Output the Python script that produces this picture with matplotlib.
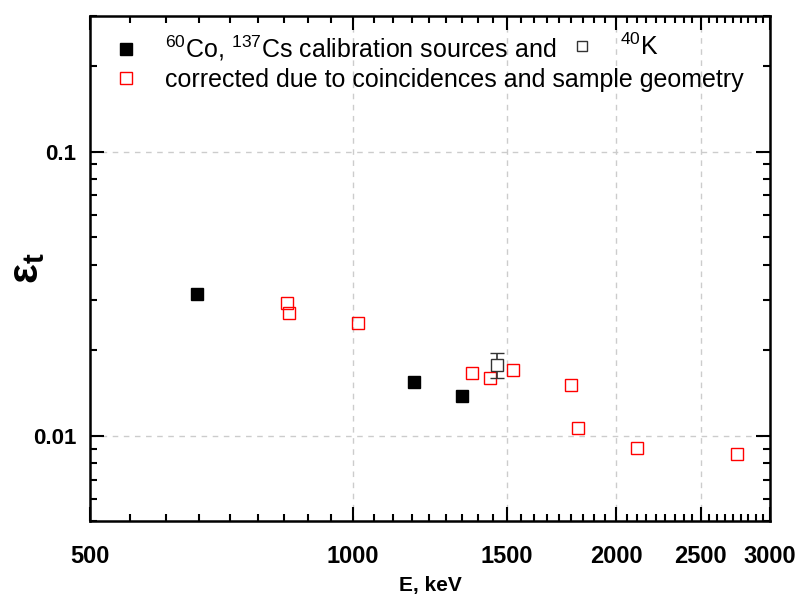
import matplotlib
matplotlib.use("Agg")
import matplotlib.pyplot as plt
from matplotlib.ticker import FixedLocator, NullFormatter, LogLocator
from matplotlib.lines import Line2D

# calibration sources (60Co, 137Cs)
cal_E = [662, 1173, 1332]
cal_eff = [0.0314, 0.0154, 0.0138]

# corrected points
cor_E = [841, 845, 1012, 1367, 1434, 1523, 1777, 1809, 2111, 2751]
cor_eff = [0.0293, 0.0270, 0.0249, 0.0166, 0.0159, 0.0170, 0.0151, 0.0106, 0.00907, 0.00859]

# 40K
k_E = [1461]
k_eff = [0.0177]
k_err = [0.0018]

x_major = [500, 1000, 1500, 2000, 2500, 3000]
x_labels = ["500", "1000", "1500", "2000", "2500", "3000"]

plt.rcParams['font.family'] = ['Liberation Sans', 'DejaVu Sans']
plt.rcParams['mathtext.fontset'] = 'custom'
plt.rcParams['mathtext.rm'] = 'Liberation Sans'
plt.rcParams['mathtext.it'] = 'Liberation Sans'
plt.rcParams['mathtext.bf'] = 'Liberation Sans:bold'

fig = plt.figure(figsize=(8, 5.99), dpi=100)
ax = fig.add_axes([0.1125, 0.1302, 0.85, 0.8431])

ax.set_xscale('log')
ax.set_yscale('log')
ax.set_xlim(500, 3000)
ax.set_ylim(0.005, 0.3)

# grid
for xv in x_major[1:-1]:
    ax.axvline(xv, color='#cccccc', ls=(0, (4, 4)), lw=1, zorder=0)
for yv in [0.01, 0.1]:
    ax.axhline(yv, color='#cccccc', ls=(0, (4, 4)), lw=1, zorder=0)

ax.plot(cal_E, cal_eff, ls='none', marker='s', ms=8.5, mfc='black', mec='black', zorder=3)
ax.plot(cor_E, cor_eff, ls='none', marker='s', ms=8, mfc='none', mec='red', mew=1.0, zorder=3)
ax.errorbar(k_E, k_eff, yerr=k_err, ls='none', marker='s', ms=8, mfc='white', mec='#333333',
            mew=1.0, ecolor='#333333', elinewidth=1.2, capsize=5, capthick=1.2, zorder=4)

# ticks
ax.xaxis.set_major_locator(FixedLocator(x_major))
ax.set_xticklabels(x_labels)
minors = []
for a, b in zip(x_major[:-1], x_major[1:]):
    for k in range(1, 9):
        minors.append(a + k * (b - a) / 9)
ax.xaxis.set_minor_locator(FixedLocator(minors))
ax.xaxis.set_minor_formatter(NullFormatter())

ax.yaxis.set_major_locator(FixedLocator([0.01, 0.1]))
ax.set_yticklabels(["0.01", "0.1"])
ax.yaxis.set_minor_locator(LogLocator(base=10, subs=range(2, 10)))
ax.yaxis.set_minor_formatter(NullFormatter())

ax.tick_params(which='both', direction='in', top=True, right=True, width=1.5)
ax.tick_params(which='major', length=10)
ax.tick_params(axis='y', which='major', labelsize=16, pad=10)
ax.tick_params(axis='x', which='major', labelsize=17, pad=17)
ax.tick_params(which='minor', length=5)
for lab in ax.get_xticklabels() + ax.get_yticklabels():
    lab.set_fontweight('bold')
for s in ax.spines.values():
    s.set_linewidth(1.8)

ax.set_xlabel('E, keV', fontsize=15, fontweight='bold')
ax.xaxis.set_label_coords(0.5, -0.108)
ax.set_ylabel(r'$\mathbf{\varepsilon}_\mathbf{t}$', fontsize=30)
ax.yaxis.set_label_coords(-0.063, 0.5)

# legends
h1 = Line2D([], [], ls='none', marker='s', ms=8.5, mfc='black', mec='black')
h2 = Line2D([], [], ls='none', marker='s', ms=8, mfc='none', mec='red', mew=1.0)
h3 = Line2D([], [], ls='none', marker='s', ms=7, mfc='white', mec='#333333', mew=1.0)
leg1 = ax.legend([h1, h2], [r'$^{60}$Co, $^{137}$Cs calibration sources and',
                            'corrected due to coincidences and sample geometry'],
                 loc='upper left', bbox_to_anchor=(0.005, 1.0), frameon=False, fontsize=18,
                 handletextpad=0.95, labelspacing=0.2, borderaxespad=0.3, handlelength=1.2)
ax.add_artist(leg1)
ax.legend([h3], [r'$^{40}$K'], loc='upper left', bbox_to_anchor=(0.675, 1.0), frameon=False,
          fontsize=18, handletextpad=0.95, borderaxespad=0.3, handlelength=1.2)

fig.savefig('out.png', dpi=100)
